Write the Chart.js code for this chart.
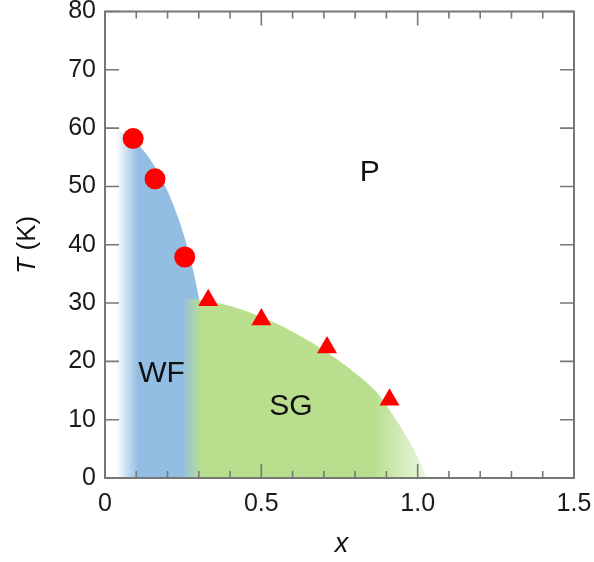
<!DOCTYPE html>
<html>
<head>
<meta charset="utf-8">
<script src="https://cdn.jsdelivr.net/npm/chart.js@4.4.1/dist/chart.umd.min.js"></script>
<style>
  body { margin: 0; background: #fff; }
</style>
</head>
<body>
<canvas id="phaseChart" width="594" height="562"></canvas>
<script>
// measured transition temperatures
var wfX = [0.09, 0.16, 0.255];
var wfT = [58.2, 51.3, 37.9];
var sgX = [0.33, 0.50, 0.71, 0.91];
var sgT = [30.5, 27.2, 22.4, 13.4];

// phase boundaries used for the shaded regions
var wfEdgeX = [0.0, 0.05, 0.10, 0.15, 0.20, 0.25, 0.28, 0.30, 0.32, 0.34, 0.35];
var wfEdgeT = [59.8, 59.4, 57.5, 54.2, 49.2, 42.0, 36.0, 30.9, 24.3, 14.2, 0];
var sgEdgeX = [0.25, 0.30, 0.40, 0.50, 0.60, 0.70, 0.80, 0.87, 0.92, 0.97, 1.00, 1.03];
var sgEdgeT = [30.8, 30.6, 29.5, 27.6, 25.1, 21.9, 18.0, 14.6, 10.9, 6.6, 3.6, 0];

var xTicks = [0, 0.5, 1.0, 1.5];
var tTicks = [0, 10, 20, 30, 40, 50, 60, 70, 80];

var phaseNames = ['WF', 'SG', 'P'];
var phaseX = [0.181, 0.595, 0.847];
var phaseT = [17.8, 12.2, 52.3];

var FONT = "'Liberation Sans', Arial, sans-serif";
var AXIS = '#777';

function pts(xs, ys) {
    return xs.map(function (x, i) { return { x: x, y: ys[i] }; });
}

// horizontal colour ramp, stops given in x units
function ramp(stops) {
    return function (c) {
        var chart = c.chart, area = chart.chartArea;
        if (!area) return 'rgba(0,0,0,0)';
        var xs = chart.scales.x;
        var g = chart.ctx.createLinearGradient(area.left, 0, area.right, 0);
        stops.forEach(function (s) {
            var p = (xs.getPixelForValue(s[0]) - area.left) / area.width;
            g.addColorStop(Math.min(1, Math.max(0, p)), s[1]);
        });
        return g;
    };
}

var frame = {
    id: 'frame',
    afterDatasetsDraw: function (chart) {
        var ctx = chart.ctx, a = chart.chartArea;
        var xs = chart.scales.x, ys = chart.scales.y;
        ctx.save();
        ctx.strokeStyle = AXIS;
        ctx.lineWidth = 2;
        ctx.strokeRect(a.left, a.top, a.right - a.left, a.bottom - a.top);

        ctx.lineWidth = 1.6;
        ctx.beginPath();
        for (var i = 0; i <= 15; i++) {
            var px = xs.getPixelForValue(i / 10);
            var len = i % 5 === 0 ? 14 : 7;
            ctx.moveTo(px, a.bottom); ctx.lineTo(px, a.bottom - len);
            ctx.moveTo(px, a.top); ctx.lineTo(px, a.top + len);
        }
        tTicks.forEach(function (t) {
            var py = ys.getPixelForValue(t);
            ctx.moveTo(a.left, py); ctx.lineTo(a.left + 14, py);
            ctx.moveTo(a.right, py); ctx.lineTo(a.right - 14, py);
        });
        ctx.stroke();

        // phase names
        ctx.fillStyle = '#111';
        ctx.font = '30px ' + FONT;
        ctx.textAlign = 'center';
        ctx.textBaseline = 'middle';
        phaseNames.forEach(function (n, i) {
            ctx.fillText(n, xs.getPixelForValue(phaseX[i]), ys.getPixelForValue(phaseT[i]));
        });

        // axis titles
        ctx.font = 'italic 27px ' + FONT;
        ctx.fillText('x', (a.left + a.right) / 2 + 2, 544);

        ctx.save();
        ctx.translate(28, (a.top + a.bottom) / 2);
        ctx.rotate(-Math.PI / 2);
        ctx.textAlign = 'left';
        ctx.font = 'italic 26px ' + FONT;
        var wT = ctx.measureText('T').width;
        ctx.font = '26px ' + FONT;
        var wK = ctx.measureText(' (K)').width;
        var x0 = -(wT + wK) / 2;
        ctx.font = 'italic 26px ' + FONT;
        ctx.fillText('T', x0, 0);
        ctx.font = '26px ' + FONT;
        ctx.fillText(' (K)', x0 + wT, 0);
        ctx.restore();

        ctx.restore();
    }
};

new Chart(document.getElementById('phaseChart'), {
    type: 'line',
    data: {
        datasets: [
            {
                label: 'WF',
                data: pts(wfX, wfT),
                showLine: false,
                pointStyle: 'circle',
                pointRadius: 10.5,
                pointBackgroundColor: '#ff0000',
                pointBorderWidth: 0
            },
            {
                label: 'SG',
                data: pts(sgX, sgT),
                showLine: false,
                pointStyle: 'triangle',
                pointRadius: 11.5,
                pointBackgroundColor: '#ff0000',
                pointBorderWidth: 0
            },
            {
                label: 'SG region',
                data: pts(sgEdgeX, sgEdgeT),
                fill: 'origin',
                cubicInterpolationMode: 'monotone',
                borderWidth: 0,
                borderColor: 'rgba(0,0,0,0)',
                pointRadius: 0,
                backgroundColor: ramp([
                    [0.245, 'rgba(185,223,142,0)'],
                    [0.31, 'rgba(185,223,142,1)'],
                    [0.86, 'rgba(185,223,142,1)'],
                    [1.03, 'rgba(185,223,142,0.25)']
                ])
            },
            {
                label: 'WF region',
                data: pts(wfEdgeX, wfEdgeT),
                fill: 'origin',
                cubicInterpolationMode: 'monotone',
                borderWidth: 0,
                borderColor: 'rgba(0,0,0,0)',
                pointRadius: 0,
                backgroundColor: ramp([
                    [0.035, 'rgba(147,190,227,0)'],
                    [0.105, 'rgba(147,190,227,1)']
                ])
            }
        ]
    },
    options: {
        responsive: false,
        animation: false,
        devicePixelRatio: 1,
        layout: { padding: { top: 10, right: 20, left: 0, bottom: 0 } },
        plugins: { legend: { display: false }, tooltip: { enabled: false } },
        scales: {
            x: {
                type: 'linear',
                min: 0, max: 1.5,
                grid: { display: false, drawTicks: false },
                border: { display: false },
                afterBuildTicks: function (s) { s.ticks = xTicks.map(function (v) { return { value: v }; }); },
                afterFit: function (s) { s.height = 84; s.paddingLeft = 0; s.paddingRight = 0; },
                ticks: {
                    padding: 11,
                    color: '#1a1a1a',
                    font: { family: FONT, size: 25 },
                    callback: function (v) { return v === 0 ? '0' : v.toFixed(1); }
                }
            },
            y: {
                min: 0, max: 80,
                grid: { display: false, drawTicks: false },
                border: { display: false },
                afterBuildTicks: function (s) { s.ticks = tTicks.map(function (v) { return { value: v }; }); },
                afterFit: function (s) { s.width = 105; s.paddingTop = 0; s.paddingBottom = 0; },
                ticks: {
                    padding: 9,
                    color: '#1a1a1a',
                    font: { family: FONT, size: 25 }
                }
            }
        }
    },
    plugins: [frame]
});
</script>
</body>
</html>
